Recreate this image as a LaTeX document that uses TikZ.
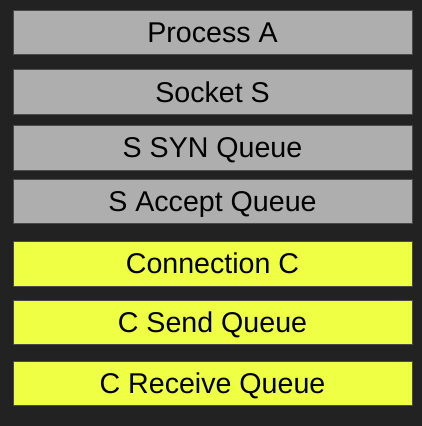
\documentclass[tikz,border=0pt]{standalone}
\usepackage{fontspec}
\setmainfont{Liberation Sans}
\definecolor{bgc}{HTML}{222222}
\definecolor{greyc}{HTML}{AEAEAE}
\definecolor{yellowc}{HTML}{EEFF44}
\definecolor{edgec}{HTML}{4A4A4A}
\tikzset{
  box/.style={draw=edgec, line width=1pt, minimum width=399pt, inner sep=0pt,
    text height=20.5pt, text depth=0pt, font=\fontsize{28.6}{31}\selectfont},
  greybox/.style={box, fill=greyc},
  yellowbox/.style={box, fill=yellowc}
}
\begin{document}
\begin{tikzpicture}[x=1pt,y=-1pt]
\fill[bgc] (0,0) rectangle (422,426);
\useasboundingbox (0,0) rectangle (422,426);
\node[greybox, minimum height=44pt] (pa) at (212.5,32) {Process A};
\node[greybox, minimum height=44.5pt] (ss) at (212.5,92.2) {Socket S};
\node[greybox, minimum height=45pt] (syn) at (212.5,147.5) {S SYN Queue};
\node[greybox, minimum height=44pt] (acc) at (212.5,201) {S Accept Queue};
\node[yellowbox, minimum height=45pt] (cc) at (212.5,263.5) {Connection C};
\node[yellowbox, minimum height=44pt] (csq) at (212.5,322) {C Send Queue};
\node[yellowbox, minimum height=44pt] (crq) at (212.5,383) {C Receive Queue};
\end{tikzpicture}
\end{document}
